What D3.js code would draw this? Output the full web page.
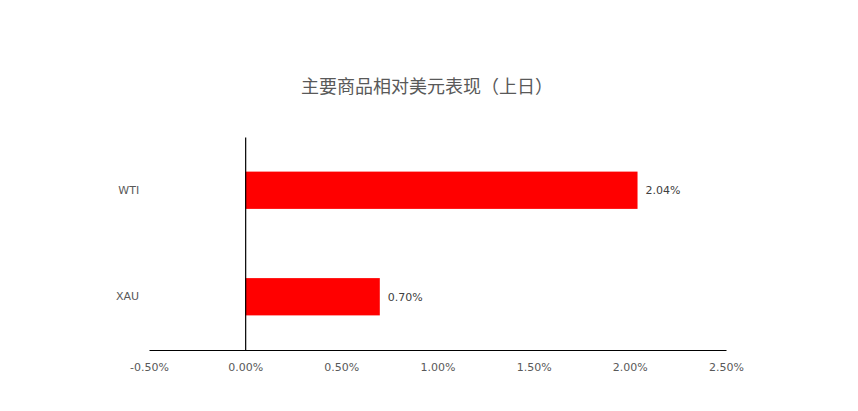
<!DOCTYPE html>
<html><head><meta charset="utf-8">
<script src="https://cdn.jsdelivr.net/npm/d3@7"></script>
<style>html,body{margin:0;padding:0;background:#fff;}</style>
</head><body>
<svg id="c" width="858" height="411"></svg>
<script>
const title = "主要商品相对美元表现（上日）";
const categories = ["WTI", "XAU"];
const values = [2.04, 0.70];
const tickValues = [-0.5, 0, 0.5, 1.0, 1.5, 2.0, 2.5];

const svg = d3.select("#c");
const font = "'Noto Sans CJK SC', 'Open Sans', sans-serif";
const numFont = "'DejaVu Sans', Verdana, sans-serif";
const x = d3.scaleLinear().domain([-0.5, 2.5]).range([149, 726]);
const y = d3.scaleBand().domain(categories).range([137, 350]).paddingInner(0.65).paddingOuter(0.325);

svg.append("text").attr("x", 427).attr("y", 93).attr("text-anchor", "middle")
  .attr("font-family", font).attr("font-size", 18).attr("fill", "#595959").text(title);

svg.selectAll("rect.bar").data(values).enter().append("rect").attr("class","bar")
  .attr("x", x(0)).attr("y", (d,i)=>y(categories[i]))
  .attr("width", d=>x(d)-x(0)).attr("height", y.bandwidth()).attr("fill", "#ff0000");

svg.selectAll("text.lbl").data(values).enter().append("text").attr("class","lbl")
  .attr("x", d=>x(d)+8).attr("y", (d,i)=>y(categories[i])+y.bandwidth()/2)
  .attr("dy","0.35em").attr("font-family", numFont).attr("font-size", 11).attr("fill", "#404040")
  .text(d=>d.toFixed(2)+"%");

const xAxis = d3.axisBottom(x).tickValues(tickValues).tickSize(0).tickPadding(13)
  .tickFormat(d=>d.toFixed(2)+"%");
const gx = svg.append("g").attr("transform","translate(0,350)").call(xAxis);
gx.select(".domain").attr("stroke","#000").attr("stroke-width",1.2);
gx.selectAll("text").attr("font-family", numFont).attr("font-size", 11).attr("fill","#595959");

const yAxis = d3.axisLeft(y).tickSize(0).tickPadding(106);
const gy = svg.append("g").attr("transform",`translate(${x(0)},0)`).call(yAxis);
gy.select(".domain").attr("stroke","#000").attr("stroke-width",1.2);
gy.selectAll("text").attr("font-family", numFont).attr("font-size", 11).attr("fill","#595959");
</script>
</body></html>
